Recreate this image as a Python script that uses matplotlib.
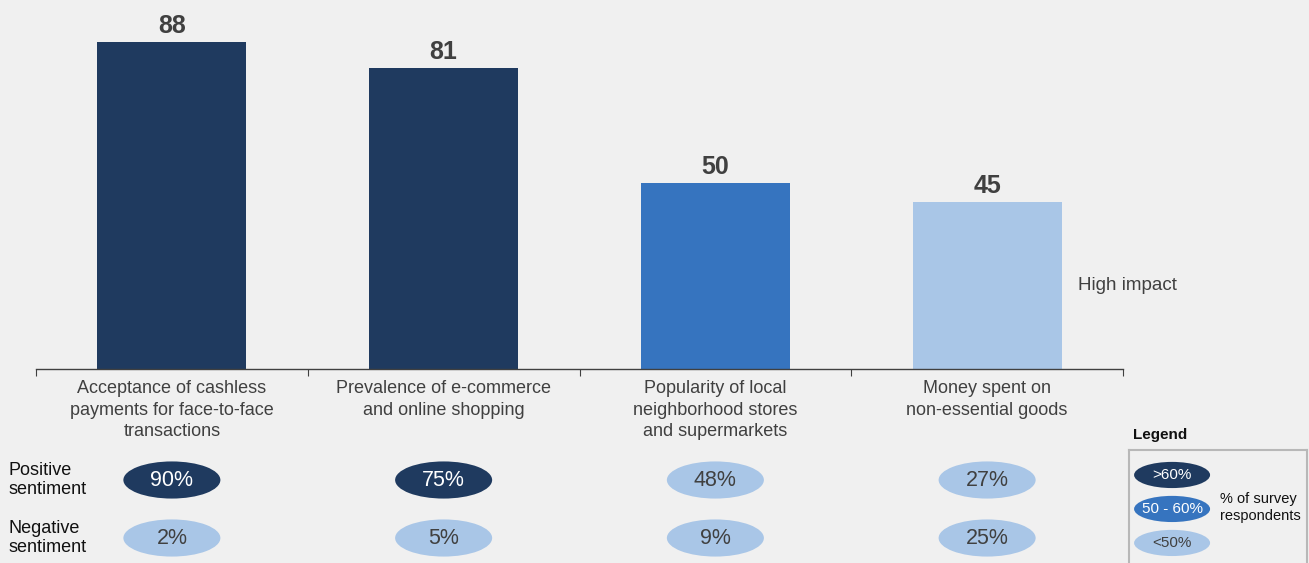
import matplotlib.pyplot as plt
from matplotlib.patches import Ellipse

plt.rcParams['font.family'] = ['Liberation Sans', 'DejaVu Sans']

# ----------------------
# Data
# ----------------------
categories = [
    "Acceptance of cashless\npayments for face-to-face\ntransactions",
    "Prevalence of e-commerce\nand online shopping",
    "Popularity of local\nneighborhood stores\nand supermarkets",
    "Money spent on\nnon-essential goods",
]
impact = [88, 81, 50, 45]
positive = [90, 75, 48, 27]
negative = [2, 5, 9, 25]
row_labels = ["Positive\nsentiment", "Negative\nsentiment"]
legend_labels = [">60%", "50 - 60%", "<50%"]

BG = "#f0f0f0"
DARK = "#1f3a5f"
MID = "#3674bf"
LIGHT = "#a9c6e7"
TEXT = "#404040"
legend_colors = [DARK, MID, LIGHT]


def shade(v):
    # colour band by share of respondents
    if v > 60:
        return DARK
    if v >= 50:
        return MID
    return LIGHT


W, H = 1309, 563
fig = plt.figure(figsize=(W / 100, H / 100), dpi=100, facecolor=BG)


def px_axes(x0, y0, x1, y1):
    # axes from pixel box (top-left origin)
    return fig.add_axes([x0 / W, 1 - y1 / H, (x1 - x0) / W, (y1 - y0) / H])


# ----------------------
# Bar chart
# ----------------------
ax = px_axes(36, 0, 1123, 369)
ax.set_facecolor("none")
x = range(len(categories))
ax.bar(x, impact, width=0.548, color=[shade(v) for v in impact])
for xi, v in zip(x, impact):
    ax.annotate(str(v), (xi, v), xytext=(0, 3), textcoords="offset points",
                ha="center", va="bottom", fontsize=18, fontweight="bold", color=TEXT)
ax.set_xlim(-0.5, len(categories) - 0.5)
ax.set_ylim(0, 99.3)
for s in ["top", "right", "left"]:
    ax.spines[s].set_visible(False)
ax.spines["bottom"].set_color("#404040")
ax.spines["bottom"].set_linewidth(1.0)
ax.set_yticks([])
ax.set_xticks([i - 0.5 for i in range(len(categories) + 1)])
ax.set_xticklabels([])
ax.tick_params(axis="x", which="major", length=5, color="#404040", direction="out")
ax.set_xticks(list(x), minor=True)
ax.set_xticklabels(categories, minor=True, fontsize=13, color=TEXT, linespacing=1.35)
ax.tick_params(axis="x", which="minor", length=0, pad=8)
ax.text(3.334, 22.6, "High impact", fontsize=13.5, color=TEXT, va="center", ha="left")

# ----------------------
# Sentiment ellipses
# ----------------------
sx = px_axes(36, 451, 1123, 567)
sx.set_xlim(-0.5, len(categories) - 0.5)
sx.set_ylim(1.5, -0.5)
sx.axis("off")
for row, vals in enumerate([positive, negative]):
    for xi, v in zip(x, vals):
        c = shade(v)
        sx.add_patch(Ellipse((xi, row), 0.357, 0.64, facecolor=c, edgecolor="none", clip_on=False))
        sx.text(xi, row, f"{v}%", ha="center", va="center", fontsize=15.5,
                color="white" if c != LIGHT else TEXT)
    sx.text(-0.603, row, row_labels[row], ha="left", va="center", fontsize=13,
            color="#111111", linespacing=1.18)

# ----------------------
# Legend box
# ----------------------
fig.text(1133 / W, 1 - 435 / H, "Legend", fontsize=11, fontweight="bold",
         color="#111111", ha="left", va="center")
lx = px_axes(1129, 450, 1307, 580)
lx.set_facecolor("none")
lx.set_xlim(0, 1)
lx.set_ylim(3.09, -0.735)
lx.set_xticks([])
lx.set_yticks([])
for s in lx.spines.values():
    s.set_color("#b8b8b8")
    s.set_linewidth(1.5)
for i, (lab, c) in enumerate(zip(legend_labels, legend_colors)):
    lx.add_patch(Ellipse((0.242, i), 0.427, 0.77, facecolor=c, edgecolor="none"))
    lx.text(0.242, i, lab, ha="center", va="center", fontsize=11,
            color="white" if c != LIGHT else TEXT)
lx.text(0.51, 0.95, "% of survey\nrespondents", ha="left", va="center", fontsize=10.5,
        color="#111111", linespacing=1.3)

fig.savefig("out.png", dpi=100, facecolor=BG)
